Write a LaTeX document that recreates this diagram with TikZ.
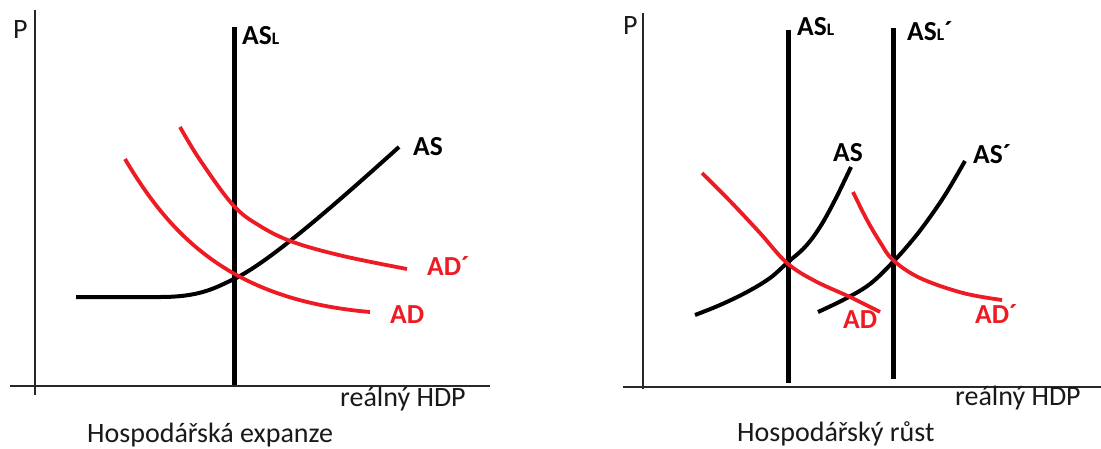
\documentclass[tikz,border=0pt]{standalone}
\usepackage{fontspec}
\setmainfont{Carlito}
\definecolor{cred}{RGB}{237,28,36}
\definecolor{axisc}{RGB}{40,40,40}
\begin{document}
\begin{tikzpicture}[x=1pt,y=-1pt,
  axis/.style={draw=axisc,line width=1.6pt},
  lrline/.style={draw=black,line width=5pt},
  ascurve/.style={draw=black,line width=4pt},
  adcurve/.style={draw=cred,line width=3.8pt},
  blab/.style={font=\fontsize{27.5}{30}\selectfont\bfseries,inner sep=0pt,anchor=base west},
  rlab/.style={font=\fontsize{27.5}{30}\selectfont\bfseries,text=cred,inner sep=0pt,anchor=base west},
  tlab/.style={font=\fontsize{28}{30}\selectfont,text=black!90,inner sep=0pt,anchor=base west}]
\useasboundingbox (0,0) rectangle (1101,448);
\newcommand{\Lsub}{{\fontsize{17.5}{20}\selectfont L}}
% ---------------- left panel ----------------
\coordinate (ly1) at (35,10); \coordinate (ly2) at (35,395);
\coordinate (lx1) at (10,386); \coordinate (lx2) at (490,386);
\draw[axis] (ly1) -- (ly2);
\draw[axis] (lx1) -- (lx2);
\coordinate (lasl1) at (234,27); \coordinate (lasl2) at (234,385);
\draw[lrline] (lasl1) -- (lasl2);
\draw[ascurve] (76,297) -- (160,297) .. controls (200,297) and (215,288) .. (234,279) .. controls (270,262) and (340,200) .. (399,147);
\draw[adcurve] (125,159) .. controls (170,235) and (230,300) .. (370,312);
\draw[adcurve] plot[smooth,tension=0.6] coordinates {(180,127)(200,160)(233,205)(260,226)(293,242)(343,256)(407,269)};
\node[tlab] (lP) at (13,38) {P};
\node[blab] (lASL) at (242,44) {AS\Lsub};
\node[blab] (lAS) at (413,155) {AS};
\node[rlab] (lADp) at (427,275) {AD´};
\node[rlab] (lAD) at (390,323) {AD};
\node[tlab] (lHDP) at (340,406) {reálný HDP};
\node[tlab] (lcap) at (87,442) {Hospodářská expanze};
% ---------------- right panel ----------------
\coordinate (ry1) at (643,13); \coordinate (ry2) at (643,389);
\coordinate (rx1) at (623,387); \coordinate (rx2) at (1101,387);
\draw[axis] (ry1) -- (ry2);
\draw[axis] (rx1) -- (rx2);
\coordinate (rasl1) at (788,30); \coordinate (rasl2) at (788,383);
\coordinate (rasp1) at (893,28); \coordinate (rasp2) at (893,379);
\draw[lrline] (rasl1) -- (rasl2);
\draw[lrline] (rasp1) -- (rasp2);
\draw[ascurve] plot[smooth,tension=0.6] coordinates {(695,315)(720,305)(747,292)(770,278)(787,263)(805,247)(820,227)(835,200)(851,167)};
\draw[ascurve] plot[smooth,tension=0.6] coordinates {(818,312)(845,299)(870,284)(893,262)(910,243)(925,224)(945,195)(965,161)};
\draw[adcurve] plot[smooth,tension=0.6] coordinates {(702,173)(730,201)(760,233)(787,263)(815,281)(850,297)(880,312)};
\draw[adcurve] plot[smooth,tension=0.6] coordinates {(853,192)(867,220)(880,242)(893,260)(920,278)(963,293)(1002,300)};
\node[tlab] (rP) at (623,34) {P};
\node[blab] (rASL) at (797,35) {AS\Lsub};
\node[blab] (rASLp) at (907,40) {AS\Lsub´};
\node[blab] (rAS) at (833,161) {AS};
\node[blab] (rASp) at (973,163) {AS´};
\node[rlab] (rAD) at (843,328) {AD};
\node[rlab] (rADp) at (975,323) {AD´};
\node[tlab] (rHDP) at (955,405) {reálný HDP};
\node[tlab] (rcap) at (737,441) {Hospodářský růst};
\end{tikzpicture}
\end{document}
